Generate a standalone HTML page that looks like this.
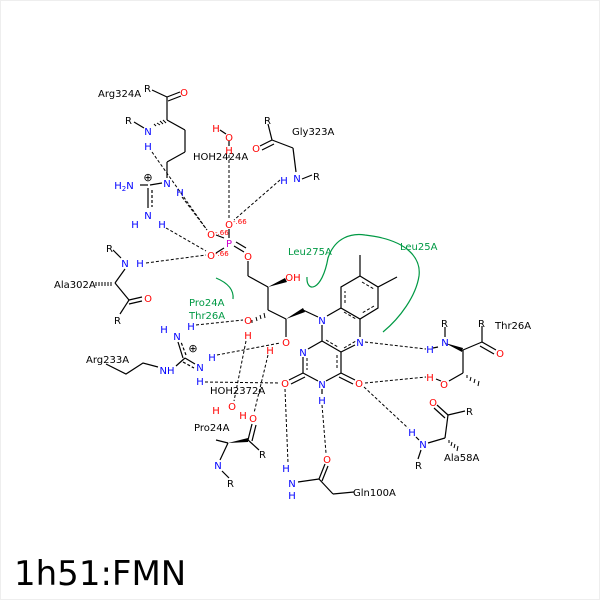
<!DOCTYPE html>
<html><head><meta charset="utf-8"><style>
html,body{margin:0;padding:0;background:#fff}
svg{display:block}
text{font-family:"DejaVu Sans","Liberation Sans",sans-serif}
</style></head><body>
<svg width="600" height="600" viewBox="0 0 600 600" xmlns="http://www.w3.org/2000/svg">
<rect x="0.5" y="0.5" width="599" height="599" fill="#fff" stroke="#eee"/>
<g stroke="#000" stroke-width="1.2" fill="none">
<line x1="152" y1="90" x2="167" y2="97"/>
<line x1="167" y1="97" x2="180" y2="92"/><line x1="168" y1="101" x2="181" y2="96"/>
<line x1="167" y1="97" x2="167" y2="120"/>
<line x1="167" y1="120" x2="185" y2="130"/><line x1="185" y1="130" x2="185" y2="152"/>
<line x1="185" y1="152" x2="167" y2="162"/><line x1="167" y1="162" x2="167" y2="178"/>
<line x1="134" y1="122" x2="144" y2="128"/>
<line x1="150" y1="185" x2="162" y2="183"/>
<line x1="140" y1="185" x2="148" y2="185"/>
<line x1="148" y1="188" x2="148" y2="208"/><line x1="152" y1="190" x2="152" y2="207" stroke-dasharray="3,2"/>
<line x1="268" y1="124" x2="272" y2="140"/>
<line x1="272" y1="140" x2="260" y2="146"/><line x1="274" y1="144" x2="262" y2="150"/>
<line x1="272" y1="140" x2="293" y2="148"/><line x1="293" y1="148" x2="296" y2="172"/>
<line x1="302" y1="179" x2="312" y2="175"/>
<line x1="220" y1="130" x2="226" y2="134"/><line x1="229" y1="141" x2="229" y2="146"/>
<line x1="224" y1="238" x2="216" y2="235"/><line x1="224" y1="248" x2="216" y2="253"/>
<line x1="234" y1="246" x2="244" y2="252"/><line x1="236" y1="242" x2="246" y2="248"/>
<line x1="229" y1="238" x2="229" y2="229"/>
<line x1="248" y1="261" x2="248" y2="276"/><line x1="248" y1="276" x2="268" y2="287"/>
<line x1="268" y1="287" x2="268" y2="310"/><line x1="268" y1="310" x2="286" y2="319"/>
<line x1="286" y1="319" x2="286" y2="337"/><line x1="303" y1="310" x2="318" y2="317"/>
<polygon points="360,276 378,287 378,308 360,319 341,308 341,287"/>
<line x1="360" y1="276" x2="360" y2="255"/><line x1="378" y1="287" x2="397" y2="277"/>
<line x1="341" y1="308" x2="327" y2="316"/><line x1="322" y1="325" x2="322" y2="341"/>
<line x1="322" y1="341" x2="341" y2="352"/><line x1="341" y1="352" x2="355" y2="345"/>
<line x1="360" y1="337" x2="360" y2="319"/>
<line x1="341" y1="352" x2="341" y2="373"/>
<line x1="322" y1="341" x2="308" y2="349"/><line x1="303" y1="357" x2="303" y2="373"/>
<line x1="303" y1="373" x2="318" y2="381"/><line x1="326" y1="381" x2="341" y2="373"/>
<line x1="303" y1="373" x2="289" y2="380"/><line x1="305" y1="377" x2="291" y2="384"/>
<line x1="341" y1="373" x2="355" y2="380"/><line x1="339" y1="377" x2="353" y2="384"/>
<line x1="322" y1="389" x2="322" y2="394"/>
<line x1="113" y1="250" x2="121" y2="258"/><line x1="125" y1="269" x2="115" y2="283"/>
<line x1="115" y1="283" x2="129" y2="300"/><line x1="129" y1="300" x2="142" y2="297"/><line x1="129" y1="304" x2="142" y2="301"/>
<line x1="129" y1="300" x2="120" y2="314"/>
<polyline points="106,364 126,374 143,363 158,367"/>
<line x1="176" y1="366" x2="185" y2="358"/>
<line x1="183" y1="358" x2="178" y2="342"/><line x1="186" y1="355" x2="181" y2="342" stroke-dasharray="3,2"/>
<line x1="185" y1="358" x2="195" y2="364"/><line x1="183" y1="362" x2="194" y2="368" stroke-dasharray="3,2"/>
<line x1="216" y1="440" x2="228" y2="443"/><line x1="228" y1="443" x2="220" y2="460"/>
<line x1="222" y1="471" x2="229" y2="478"/>
<line x1="248" y1="440" x2="259" y2="450"/>
<line x1="248" y1="440" x2="252" y2="424"/><line x1="252" y1="441" x2="256" y2="425"/>
<line x1="298" y1="482" x2="319" y2="479"/>
<line x1="319" y1="479" x2="325" y2="464"/><line x1="322" y1="481" x2="328" y2="466"/>
<line x1="319" y1="479" x2="333" y2="494"/><line x1="333" y1="494" x2="354" y2="492"/>
<line x1="445" y1="327" x2="445" y2="337"/><line x1="438" y1="347" x2="433" y2="348"/>
<line x1="463" y1="350" x2="482" y2="342"/><line x1="482" y1="342" x2="482" y2="326"/>
<line x1="482" y1="342" x2="496" y2="350"/><line x1="480" y1="346" x2="494" y2="354"/>
<line x1="463" y1="350" x2="463" y2="373"/><line x1="463" y1="373" x2="449" y2="381"/>
<line x1="436" y1="379" x2="441" y2="381"/>
<line x1="437" y1="405" x2="448" y2="415"/><line x1="434" y1="408" x2="445" y2="418"/>
<line x1="448" y1="415" x2="465" y2="411"/><line x1="448" y1="415" x2="445" y2="438"/>
<line x1="445" y1="438" x2="428" y2="443"/><line x1="421" y1="450" x2="418" y2="459"/>
<line x1="416" y1="437" x2="419" y2="440"/>
</g>
<g fill="#000">
<polygon points="268,287 285,278 287,282"/>
<polygon points="286,319 303,308 305,312"/>
<polygon points="445,343 463,348 462,352"/>
<polygon points="228,443 248,438 248,442"/>
</g>
<g stroke="#000" stroke-width="1">
<path d="M154,124 l2,2 M157,123 l3,2 M160,121 l3,3 M163,120 l3,3"/>
<path d="M96,282 l0,4 M99,282 l0,4 M102,282 l0,4 M105,282 l0,4 M108,282 l0,4 M111,282 l0,4"/>
<path d="M252,320 l0,3 M256,317 l1,4 M260,315 l1,4 M264,313 l1,5"/>
<path d="M467,375 l0,3 M471,377 l-1,4 M475,379 l-1,4 M479,381 l-1,5"/>
<path d="M449,440 l0,3 M452,442 l-1,4 M455,444 l-1,4 M458,446 l-1,5"/>
</g>
<g stroke="#000" stroke-width="1" stroke-dasharray="3,2" fill="none">
<line x1="152" y1="152" x2="207" y2="230"/>
<line x1="182" y1="197" x2="207" y2="230"/>
<line x1="166" y1="228" x2="206" y2="251"/>
<line x1="146" y1="263" x2="206" y2="255"/>
<line x1="229" y1="155" x2="229" y2="218"/>
<line x1="280" y1="180" x2="234" y2="220"/>
<line x1="196" y1="325" x2="243" y2="320"/>
<line x1="217" y1="355" x2="280" y2="343"/>
<line x1="205" y1="382" x2="280" y2="383"/>
<line x1="246" y1="341" x2="234" y2="401"/>
<line x1="268" y1="355" x2="254" y2="413"/>
<line x1="285" y1="389" x2="288" y2="463"/>
<line x1="322" y1="405" x2="326" y2="453"/>
<line x1="365" y1="342" x2="426" y2="349"/>
<line x1="365" y1="383" x2="426" y2="377"/>
<line x1="364" y1="387" x2="408" y2="428"/>
</g>
<g stroke="#000" stroke-width="1" stroke-dasharray="3,2">
<line x1="362" y1="282" x2="374" y2="289"/><line x1="374" y1="306" x2="362" y2="313"/><line x1="345" y1="303" x2="345" y2="291"/>
<line x1="344" y1="312" x2="356" y2="319"/><line x1="344" y1="348" x2="356" y2="341"/>
<line x1="326" y1="340" x2="338" y2="347"/><line x1="337" y1="355" x2="337" y2="370"/><line x1="307" y1="358" x2="307" y2="370"/>
</g>
<g stroke="#009944" stroke-width="1.2" fill="none">
<path d="M307,277 C306,293 322,292 328,258 C335,237 352,233 365,235 C410,240 421,260 419,276 C416,296 400,318 383,332"/>
<path d="M216,278 C228,283 234,290 233,299"/>
</g>
<g font-size="10" fill="#009944">
<text x="288" y="255">Leu275A</text>
<text x="400" y="250">Leu25A</text>
<text x="189" y="306">Pro24A</text>
<text x="189" y="319">Thr26A</text>
</g>
<g font-size="10" fill="#000">
<text x="98" y="97">Arg324A</text>
<text x="144" y="92">R</text>
<text x="125" y="124">R</text>
<text x="193" y="160">HOH2424A</text>
<text x="264" y="124">R</text>
<text x="292" y="135">Gly323A</text>
<text x="313" y="180">R</text>
<text x="106" y="252">R</text>
<text x="54" y="288">Ala302A</text>
<text x="114" y="324">R</text>
<text x="86" y="363">Arg233A</text>
<text x="210" y="394">HOH2372A</text>
<text x="194" y="431">Pro24A</text>
<text x="259" y="458">R</text>
<text x="227" y="487">R</text>
<text x="353" y="496">Gln100A</text>
<text x="441" y="327">R</text>
<text x="478" y="327">R</text>
<text x="495" y="329">Thr26A</text>
<text x="466" y="415">R</text>
<text x="444" y="461">Ala58A</text>
<text x="415" y="469">R</text>
</g>
<g font-size="10" fill="#0000ff" text-anchor="middle">
<text x="148" y="135">N</text><text x="148" y="150">H</text>
<text x="124" y="189">H<tspan font-size="7" dy="2">2</tspan><tspan dy="-2">N</tspan></text>
<text x="167" y="187">N</text><text x="180" y="196">H</text>
<text x="148" y="219">N</text><text x="135" y="228">H</text><text x="162" y="228">H</text>
<text x="297" y="182">N</text><text x="284" y="184">H</text>
<text x="125" y="267">N</text><text x="140" y="267">H</text>
<text x="177" y="340">N</text><text x="164" y="333">H</text><text x="191" y="330">H</text>
<text x="167" y="374">NH</text>
<text x="200" y="371">N</text><text x="212" y="361">H</text><text x="200" y="385">H</text>
<text x="322" y="324">N</text><text x="360" y="346">N</text><text x="303" y="356">N</text>
<text x="322" y="388">N</text><text x="322" y="404">H</text>
<text x="286" y="472">H</text><text x="292" y="487">N</text><text x="292" y="499">H</text>
<text x="445" y="346">N</text><text x="430" y="353">H</text>
<text x="423" y="448">N</text><text x="412" y="436">H</text>
<text x="218" y="469">N</text>
</g>
<text x="148" y="181" font-size="11" text-anchor="middle" fill="#000">⊕</text>
<text x="193" y="352" font-size="11" text-anchor="middle" fill="#000">⊕</text>
<g font-size="10" fill="#ff0000" text-anchor="middle">
<text x="184" y="96">O</text>
<text x="216" y="132">H</text><text x="229" y="141">O</text><text x="229" y="154">H</text>
<text x="256" y="152">O</text>
<text x="229" y="228">O</text><text x="211" y="238">O</text><text x="211" y="259">O</text><text x="248" y="260">O</text>
<text x="293" y="281">OH</text>
<text x="148" y="302">O</text>
<text x="248" y="324">O</text><text x="248" y="339">H</text>
<text x="286" y="346">O</text><text x="270" y="354">H</text>
<text x="285" y="387">O</text><text x="359" y="387">O</text>
<text x="232" y="410">O</text><text x="216" y="414">H</text><text x="243" y="419">H</text>
<text x="253" y="422">O</text>
<text x="327" y="463">O</text>
<text x="500" y="357">O</text>
<text x="444" y="388">O</text><text x="430" y="381">H</text>
<text x="433" y="406">O</text>
</g>
<g font-size="7" fill="#ff0000">
<text x="233" y="224">-.66</text><text x="215" y="235">-.66</text><text x="215" y="256">-.66</text>
</g>
<text x="229" y="247" font-size="10" fill="#cc00cc" text-anchor="middle">P</text>
<text x="14" y="585" font-size="34" fill="#000">1h51:FMN</text>
</svg>
</body></html>
